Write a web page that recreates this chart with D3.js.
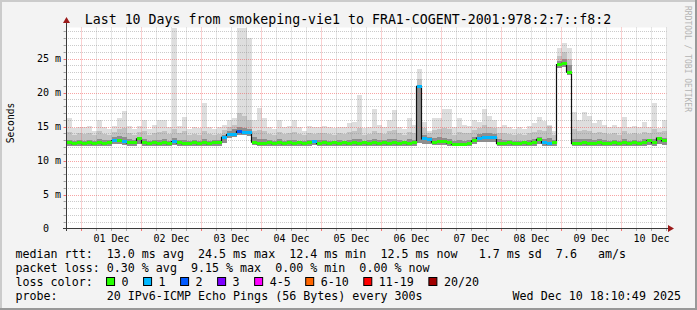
<!DOCTYPE html>
<html><head><meta charset="utf-8">
<script src="https://cdn.jsdelivr.net/npm/d3@7"></script>
<style>
body{margin:0;background:#fff}
svg text{font-family:"DejaVu Sans Mono",monospace;white-space:pre}
</style>
</head><body>
<svg id="c" width="697" height="310"></svg>
<script>
// ---- data (2-hour bins, 10 days ending Wed Dec 10 18:10:49 2025) ----
const titleText = "Last 10 Days from smokeping-vie1 to FRA1-COGENT-2001:978:2:7::f8:2";
const yTicks = [0, 5, 10, 15, 20, 25];
const med = [
 12.6,12.5,12.6, 12.5,12.6,12.5,12.6,12.5,12.6,12.9,13.0,12.8,12.6,12.6,13.2,
 12.6,12.5,12.6,12.5,12.6,12.5,12.8,12.6,12.5,12.5,12.6,12.5,
 12.6,12.5,12.6,12.6,13.4,13.8,13.9,14.3,14.1,14.1,12.7,12.5,
 12.5,12.6,12.5,12.6,12.5,12.6,12.5,12.6,12.5,12.6,12.8,12.5,
 12.6,12.5,12.6,12.5,12.6,12.5,12.6,12.5,12.6,12.5,12.6,12.5,
 12.6,12.5,12.6,12.5,12.6,12.5,12.6,20.9,13.2,13.1,12.7,12.8,
 12.8,12.6,12.4,12.4,12.4,12.5,12.9,13.3,13.4,13.4,13.4,12.5,
 12.5,12.6,12.5,12.5,12.6,12.5,12.7,13.1,12.6,12.5,12.6,24.1,
 24.3,23.0,12.5,12.5,12.6,12.5,12.5,12.6,12.5,12.5,12.6,12.5,
 12.6,12.5,12.6,12.5,12.6,12.9,12.6,13.3,12.9];
const loss = [
 0,0,0, 0,0,0,0,0,0,1,0,1,0,0,0,
 0,0,0,0,0,0,1,0,0,0,0,0,
 0,0,0,0,1,1,1,2,1,1,0,0,
 0,0,0,0,0,0,0,0,0,0,1,0,
 0,0,0,0,0,0,0,0,0,0,0,0,
 0,0,0,0,0,0,0,1,1,1,0,0,
 0,0,0,0,0,0,0,1,1,1,1,0,
 0,0,0,0,0,0,0,0,1,1,0,0,
 0,0,0,0,0,0,0,0,0,0,0,0,
 0,0,0,0,0,0,0,0,0];
const smokeMin = [
 12.2,12.2,12.2, 12.2,12.2,12.2,12.2,12.2,12.2,12.4,12.4,12.3,12.2,12.2,12.4,
 12.2,12.2,12.2,12.2,12.2,12.2,12.3,12.2,12.2,12.2,12.2,12.2,
 12.2,12.2,12.2,12.2,12.6,13.3,13.5,13.8,13.7,13.6,12.3,12.2,
 12.2,12.2,12.2,12.2,12.2,12.2,12.2,12.2,12.2,12.2,12.3,12.2,
 12.2,12.2,12.2,12.2,12.2,12.2,12.2,12.2,12.2,12.2,12.2,12.2,
 12.2,12.2,12.2,12.2,12.2,12.2,12.2,12.6,12.5,12.5,12.3,12.3,
 12.3,12.2,12.1,12.1,12.1,12.2,12.4,12.7,12.8,12.8,12.8,12.2,
 12.2,12.2,12.2,12.2,12.2,12.2,12.2,12.4,12.2,12.2,12.2,23.6,
 23.8,22.6,12.2,12.2,12.2,12.2,12.2,12.2,12.2,12.2,12.2,12.2,
 12.2,12.2,12.2,12.2,12.2,12.3,12.2,12.5,12.3];
const smokeMid = [
 13.0,12.9,13.0, 12.9,13.0,12.9,13.1,13.0,13.0,13.4,13.6,13.5,13.1,13.0,13.4,
 13.1,12.9,13.0,13.0,13.1,12.9,13.3,13.0,13.0,12.9,13.0,12.9,
 13.2,12.9,13.0,13.0,13.8,14.4,14.6,15.0,14.8,14.7,13.4,13.1,
 13.1,13.0,12.9,13.1,12.9,13.0,13.0,12.9,12.9,13.0,13.0,13.0,
 13.0,12.9,12.9,13.0,12.9,13.0,13.1,13.2,12.9,13.0,13.1,13.0,
 13.0,13.1,13.2,13.0,12.9,13.1,13.0,21.0,13.8,13.5,13.3,13.4,
 13.3,13.2,12.9,13.0,12.9,13.0,13.5,13.9,14.0,14.0,13.9,13.1,
 13.0,13.0,12.9,12.9,12.9,13.0,13.1,13.4,13.2,13.3,13.0,24.6,
 25.0,24.0,13.2,13.1,13.2,13.1,13.0,13.1,13.0,12.9,13.0,12.9,
 13.1,12.9,13.0,12.9,13.1,13.2,13.2,13.5,13.3];
const smokeHigh = [
 14.2,13.8,14.0, 13.9,14.1,13.7,14.3,13.9,13.8,14.2,14.6,14.8,14.0,13.8,14.2,
 14.3,13.8,14.0,14.2,14.3,13.9,14.6,14.0,14.3,13.8,13.9,13.8,
 14.4,13.9,13.8,13.9,14.5,15.0,15.3,17.0,16.5,16.0,14.4,14.5,
 14.4,13.9,13.8,14.2,13.9,14.0,14.2,13.9,13.7,14.0,13.9,14.0,
 14.0,13.9,13.8,14.0,13.9,14.2,14.3,14.8,13.8,13.9,14.4,14.0,
 13.9,14.3,14.5,14.0,13.8,14.2,14.0,22.0,14.8,14.0,14.5,14.6,
 14.8,14.6,13.8,14.2,14.0,14.0,14.5,14.8,15.3,15.0,14.8,14.0,
 14.0,13.9,13.8,13.9,13.8,14.0,14.2,14.5,14.3,15.1,13.8,25.4,
 26.0,25.0,14.6,14.3,14.5,14.3,14.1,14.2,14.0,13.9,14.0,13.8,
 14.3,13.9,14.0,13.9,14.2,14.0,14.6,14.2,14.4];
const smokeMax = [
 16.2,14.8,15.0, 14.9,15.1,14.4,15.9,14.9,14.7,15.1,16.3,17.3,15.1,14.7,15.1,
 15.9,14.7,15.3,15.9,15.9,14.9,29.6,15.1,16.4,14.7,14.9,14.8,
 18.5,14.9,14.7,14.9,15.3,15.9,16.3,29.6,29.6,28.0,15.9,17.8,
 16.3,14.9,14.7,15.9,14.9,15.1,15.9,14.9,14.4,15.1,14.9,15.0,
 15.1,15.0,14.8,15.0,14.9,15.5,15.6,19.6,14.8,15.0,17.6,15.2,
 15.0,16.0,17.5,15.0,14.7,16.3,15.2,23.5,15.6,14.4,16.2,16.3,
 17.6,17.6,14.9,16.3,15.3,15.1,15.9,15.7,17.6,16.6,15.9,14.9,
 15.3,14.9,14.7,14.9,14.7,15.1,15.5,16.4,15.8,15.3,14.4,26.5,
 27.3,26.6,17.1,16.0,17.1,16.5,15.5,15.9,15.3,15.0,15.3,14.9,
 16.4,14.9,15.1,15.0,15.6,15.0,18.4,14.8,15.9];
const lossLabels = ["0", "1", "2", "3", "4-5", "6-10", "11-19", "20/20"];
const lossColors = ["#26ff00", "#00b8ff", "#0059ff", "#7e00ff", "#ff00ff", "#ff6600", "#ff0000", "#a10000"];
const statRows = [
 "median rtt:  13.0 ms avg  24.5 ms max  12.4 ms min  12.5 ms now   1.7 ms sd  7.6   am/s",
 "packet loss: 0.30 % avg  9.15 % max  0.00 % min  0.00 % now"
];
const probeLabel = "probe:";
const probeText = "20 IPv6-ICMP Echo Pings (56 Bytes) every 300s";
const stampText = "Wed Dec 10 18:10:49 2025";
const END = new Date(2025, 11, 10, 18, 10, 49);
const BIN_HOURS = 2;

// ---- drawing ----
const svg = d3.select("#c");
const W = 697, H = 310;
const start = d3.timeHour.offset(END, -240);
const x = d3.scaleTime().domain([start, END]).range([66.5, 666.5]);
const y = d3.scaleLinear().domain([0, 29.5]).range([228.5, 28]).clamp(true);

// background + 3D border
svg.append("rect").attr("width", W).attr("height", H).attr("fill", "#f3f3f3");
svg.append("rect").attr("x",0).attr("y",0).attr("width",W).attr("height",2).attr("fill","#cbcbcb");
svg.append("rect").attr("x",0).attr("y",0).attr("width",2).attr("height",H).attr("fill","#cbcbcb");
svg.append("rect").attr("x",0).attr("y",H-2).attr("width",W).attr("height",2).attr("fill","#999");
svg.append("rect").attr("x",W-2).attr("y",0).attr("width",2).attr("height",H).attr("fill","#999");

// canvas
svg.append("rect").attr("x", 66.5).attr("y", 27.5).attr("width", 600).attr("height", 201).attr("fill", "#fff");

const bins = med.map((m, i) => {
  const t0 = d3.timeHour.offset(start, i * BIN_HOURS);
  const t1 = d3.timeHour.offset(start, (i + 1) * BIN_HOURS);
  return {i, t0, t1, med: m, loss: loss[i], lo: smokeMin[i], mid: smokeMid[i], hi: smokeHigh[i], max: smokeMax[i]};
});

const gPlot = svg.append("g");
const layers = [["max", "#dedede"], ["hi", "#c2c2c2"], ["mid", "#8e8e8e"]];
layers.forEach(([key, col]) => {
  gPlot.append("g").selectAll("rect").data(bins).join("rect")
    .attr("x", d => x(d.t0)).attr("width", d => x(d.t1) - x(d.t0))
    .attr("y", d => y(d[key])).attr("height", d => Math.max(0, y(d.lo) - y(d[key])))
    .attr("fill", col).attr("shape-rendering", "crispEdges");
});

// grid (drawn over smoke like rrdtool)
const gGrid = svg.append("g");
d3.range(1, 30).forEach(v => {
  const yy = Math.round(y(v)) + 0.5;
  const major = v % 5 === 0;
  gGrid.append("line").attr("x1", 64).attr("x2", 666.5).attr("y1", yy).attr("y2", yy)
    .attr("stroke", major ? "rgba(240,90,90,0.55)" : "rgba(140,140,140,0.45)")
    .attr("stroke-dasharray", "1,1").attr("stroke-width", 1);
  gGrid.append("line").attr("x1", 63.5).attr("x2", 66.5).attr("y1", yy).attr("y2", yy)
    .attr("stroke", major ? "rgba(240,90,90,0.8)" : "rgba(140,140,140,0.7)");
});
d3.timeHour.every(6).range(start, END).forEach(t => {
  const xx = Math.round(x(t)) + 0.5;
  const major = t.getHours() === 0;
  gGrid.append("line").attr("x1", xx).attr("x2", xx).attr("y1", 27.5).attr("y2", 228.5)
    .attr("stroke", major ? "rgba(240,90,90,0.55)" : "rgba(140,140,140,0.45)")
    .attr("stroke-dasharray", "1,1");
  gGrid.append("line").attr("x1", xx).attr("x2", xx).attr("y1", 228.5).attr("y2", 231)
    .attr("stroke", major ? "rgba(240,90,90,0.8)" : "rgba(140,140,140,0.7)");
});

// median line (black step) + loss-coloured band
const pts = bins.map(d => [x(d.t0), y(d.med)]);
pts.push([x(bins[bins.length - 1].t1), y(bins[bins.length - 1].med)]);
svg.append("path").attr("d", d3.line().curve(d3.curveStepAfter)(pts))
  .attr("fill", "none").attr("stroke", "#111").attr("stroke-width", 1.2);
svg.append("g").selectAll("rect").data(bins).join("rect")
  .attr("x", d => x(d.t0)).attr("width", d => x(d.t1) - x(d.t0))
  .attr("y", d => y(d.med) - 1.5).attr("height", 3)
  .attr("fill", d => lossColors[d.loss]).attr("shape-rendering", "crispEdges");

// axes lines and arrows
svg.append("line").attr("x1", 66.5).attr("x2", 66.5).attr("y1", 231).attr("y2", 22).attr("stroke", "#3a3a3a");
svg.append("line").attr("x1", 63).attr("x2", 669).attr("y1", 228.5).attr("y2", 228.5).attr("stroke", "#3a3a3a");
svg.append("path").attr("d", "M63,23 L70,23 L66.5,17 Z").attr("fill", "#9b1a1a");
svg.append("path").attr("d", "M668,225 L668,232 L674,228.5 Z").attr("fill", "#9b1a1a");

// y axis labels via d3 axis
const yAx = svg.append("g").attr("transform", "translate(61,0)")
  .call(d3.axisLeft(y).tickValues(yTicks).tickSize(0).tickPadding(0)
    .tickFormat(v => v === 0 ? "0  " : v + " m"));
yAx.select(".domain").remove();
yAx.selectAll("text").attr("font-size", "10px").attr("fill", "#000")
  .attr("font-family", "DejaVu Sans Mono").attr("dy", "0.34em").attr("text-anchor", "end").attr("x", 0);

// x axis labels at noon
const noon = d3.timeDay.range(d3.timeDay.ceil(start), END).map(d => d3.timeHour.offset(d, 12));
const xAx = svg.append("g").attr("transform", "translate(0,232)")
  .call(d3.axisBottom(x).tickValues(noon).tickSize(0).tickPadding(0).tickFormat(d3.timeFormat("%d %b")));
xAx.select(".domain").remove();
xAx.selectAll("text").attr("font-size", "10px").attr("fill", "#000")
  .attr("font-family", "DejaVu Sans Mono").attr("dy", "10px");

// title
svg.append("text").attr("x", 348).attr("y", 24).attr("text-anchor", "middle")
  .attr("font-size", "13.25px").attr("fill", "#000").text(titleText);

// y title
svg.append("text").attr("transform", "translate(14,123) rotate(-90)").attr("text-anchor", "middle")
  .attr("font-size", "9.6px").attr("fill", "#000").text("Seconds");

// watermark
svg.append("text").attr("transform", "translate(685,59) rotate(90)").attr("text-anchor", "middle")
  .attr("font-size", "8px").attr("fill", "#b4b4b4").text("RRDTOOL / TOBI OETIKER");

// legend
const LF = "11.66px", CW = 7.02, LX = 15.5;
statRows.forEach((s, k) => {
  svg.append("text").attr("x", LX).attr("y", 258 + 14 * k).attr("font-size", LF).attr("fill", "#000").text(s);
});
svg.append("text").attr("x", LX).attr("y", 286).attr("font-size", LF).attr("fill", "#000").text("loss color:");
let cur = LX + 13 * CW - 0.7;
lossLabels.forEach((lab, k) => {
  svg.append("rect").attr("x", cur + 0.5).attr("y", 277.5).attr("width", 8).attr("height", 8)
    .attr("fill", lossColors[k]).attr("stroke", "#000").attr("stroke-width", 1);
  svg.append("text").attr("x", cur + 15.5).attr("y", 286).attr("font-size", LF).attr("fill", "#000").text(lab);
  cur += 30 + CW * lab.length;
});
svg.append("text").attr("x", LX).attr("y", 300).attr("font-size", LF).attr("fill", "#000").text(probeLabel);
svg.append("text").attr("x", LX + 13 * CW).attr("y", 300).attr("font-size", LF).attr("fill", "#000").text(probeText);
svg.append("text").attr("x", 681).attr("y", 300).attr("text-anchor", "end").attr("font-size", LF).attr("fill", "#000").text(stampText);
</script>
</body></html>
